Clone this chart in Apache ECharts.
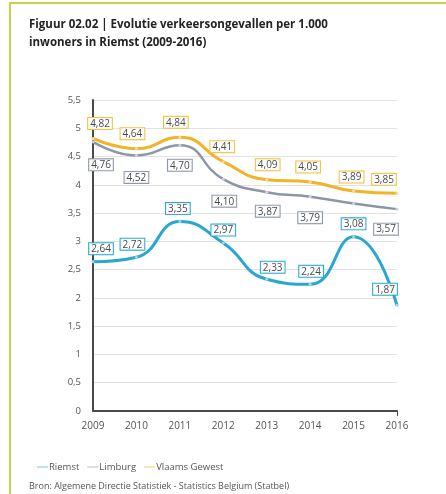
<!DOCTYPE html>
<html>
<head>
<meta charset="utf-8">
<script src="https://cdn.jsdelivr.net/npm/echarts@6/dist/echarts.min.js"></script>
<style>
html,body{margin:0;padding:0;background:#fff;}
#c{width:446px;height:494px;}
</style>
</head>
<body>
<div id="c"></div>
<script>
const years = ['2009','2010','2011','2012','2013','2014','2015','2016'];
const riemst = [2.64, 2.72, 3.35, 2.97, 2.33, 2.24, 3.08, 1.87];
const limburg = [4.76, 4.52, 4.70, 4.10, 3.87, 3.79, 3.67, 3.57];
const vlaams = [4.82, 4.64, 4.84, 4.41, 4.09, 4.05, 3.89, 3.85];
const limburgShowLabel = [true, true, true, true, true, true, false, true];
const yTicks = [0, 0.5, 1, 1.5, 2, 2.5, 3, 3.5, 4, 4.5, 5, 5.5];

// label styling (offsets in px relative to label anchor)
const riemstLabelPos = ['top','top','top','top','top','top','top','top'];
const riemstLabelOff = [[8,0],[-4,0],[-2,0],[0,0],[6,1],[1,0],[0,0],[-12,-3]];
const limburgLabelPos = ['bottom','bottom','bottom','bottom','bottom','bottom','bottom','bottom'];
const limburgLabelOff = [[8,10],[0,9],[0,7],[1,9],[1,6],[0,8],[0,0],[-11,7]];
const vlaamsLabelPos = ['top','top','top','top','top','top','top','top'];
const vlaamsLabelOff = [[7,-2],[-4,-2],[-4,-2],[-1,-2],[1,-2],[-2,-2],[-2,-1],[-13,-1]];

const fmt = v => String(v.toFixed(2)).replace('.', ',');

function build(values, color, pos, off, show) {
  return values.map((v, i) => ({
    value: v,
    label: {
      show: show ? show[i] : true,
      position: pos[i],
      offset: off[i],
      borderColor: color
    }
  }));
}

const labelBase = {
  show: true,
  formatter: p => fmt(p.value),
  fontFamily: 'Open Sans, sans-serif',
  fontSize: 10,
  color: '#4a4a4a',
  backgroundColor: 'rgba(255,255,255,0.9)',
  borderWidth: 1,
  padding: [1, 2, 0, 2],
  distance: 6
};

const chart = echarts.init(document.getElementById('c'), null, {renderer: 'canvas'});
chart.setOption({
  animation: false,
  backgroundColor: '#fff',
  graphic: [
    {type: 'rect', shape: {x: 10, y: 3, width: 460, height: 520},
     style: {fill: 'none', stroke: '#c6d24a', lineWidth: 2}},
    {type: 'text', left: 29, top: 16,
     style: {text: 'Figuur 02.02 | Evolutie verkeersongevallen per 1.000\ninwoners in Riemst (2009-2016)',
       font: 'bold 11.5px "Open Sans", sans-serif', fill: '#222', lineHeight: 18}},
    {type: 'text', left: 29, top: 482,
     style: {text: 'Bron: Algemene Directie Statistiek - Statistics Belgium (Statbel)',
       font: '9px "Open Sans", sans-serif', fill: '#555'}}
  ],
  legend: {
    left: 32, top: 457,
    icon: 'rect', itemWidth: 11, itemHeight: 1.5, itemGap: 8,
    textStyle: {fontFamily: 'Open Sans, sans-serif', fontSize: 9.5, color: '#555', padding: [0,0,0,-4]},
    data: ['Riemst', 'Limburg', 'Vlaams Gewest']
  },
  grid: {left: 93, right: 49, top: 100, bottom: 83, containLabel: false},
  xAxis: {
    type: 'category',
    data: years,
    boundaryGap: false,
    axisLine: {lineStyle: {color: '#4a4a4a', width: 2}},
    axisTick: {show: true, alignWithLabel: true, length: 5, lineStyle: {color: '#4a4a4a', width: 1},
      interval: i => i === years.length - 1},
    axisLabel: {fontFamily: 'Open Sans, sans-serif', fontSize: 10, color: '#555', margin: 10}
  },
  yAxis: {
    type: 'value',
    min: yTicks[0], max: yTicks[yTicks.length - 1], interval: 0.5,
    axisLine: {show: true, lineStyle: {color: '#4a4a4a', width: 2}},
    axisTick: {show: false},
    splitLine: {lineStyle: {color: '#e2e2e2', width: 1}},
    axisLabel: {fontFamily: 'Open Sans, sans-serif', fontSize: 9.5, color: '#555', margin: 12,
      formatter: v => String(v).replace('.', ',')}
  },
  series: [
    {name: 'Riemst', type: 'line', smooth: 0.5, color: '#2aa7cf',
     data: build(riemst, '#2aa7cf', riemstLabelPos, riemstLabelOff),
     lineStyle: {width: 3, color: '#2aa7cf'},
     symbol: 'circle', symbolSize: 3, itemStyle: {color: '#9fd8ea'},
     label: labelBase, z: 4},
    {name: 'Limburg', type: 'line', smooth: 0.5, color: '#8c96a8',
     data: build(limburg, '#8c96a8', limburgLabelPos, limburgLabelOff, limburgShowLabel),
     lineStyle: {width: 2.5, color: '#8c96a8'},
     symbol: 'circle', symbolSize: 3, itemStyle: {color: '#cfd4dc'},
     label: labelBase, z: 3},
    {name: 'Vlaams Gewest', type: 'line', smooth: 0.5, color: '#f0b428',
     data: build(vlaams, '#f0c040', vlaamsLabelPos, vlaamsLabelOff),
     lineStyle: {width: 3, color: '#f0b428'},
     symbol: 'circle', symbolSize: 3, itemStyle: {color: '#f8dc95'},
     label: labelBase, z: 2}
  ]
});
</script>
</body>
</html>
